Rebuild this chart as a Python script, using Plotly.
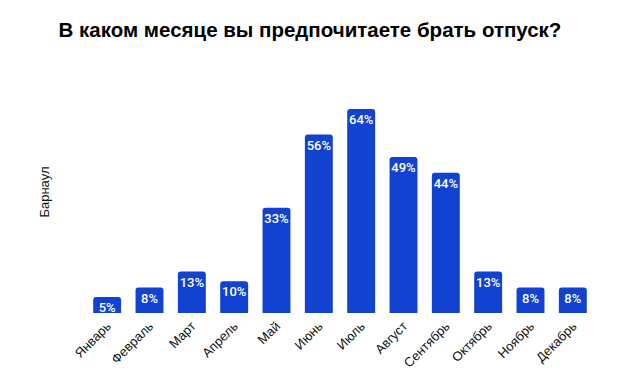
import plotly.graph_objects as go

months = ["Январь", "Февраль", "Март", "Апрель", "Май", "Июнь", "Июль",
          "Август", "Сентябрь", "Октябрь", "Ноябрь", "Декабрь"]
values = [5, 8, 13, 10, 33, 56, 64, 49, 44, 13, 8, 8]
labels = [f"{v}%" for v in values]

# the page body has an 8px default margin; margins below compensate for it
fig = go.Figure(go.Bar(
    x=months, y=values, text=labels,
    textposition="inside", insidetextanchor="end",
    textfont=dict(family="Roboto", size=13, color="white", weight=500),
    marker=dict(color="#1242D0", line=dict(width=0)),
    cliponaxis=False,
))
fig.update_traces(textangle=0)
fig.update_layout(
    width=620, height=383,
    margin=dict(l=78, r=34, t=82, b=78, autoexpand=False),
    paper_bgcolor="white", plot_bgcolor="white",
    bargap=0.34, barcornerradius=3,
    uniformtext=dict(minsize=12, mode="show"),
    showlegend=False,
    title=dict(text="<b>В каком месяце вы предпочитаете брать отпуск?</b>",
               x=302 / 620, xref="container", xanchor="center",
               y=1 - 22 / 383, yref="container", yanchor="middle",
               automargin=False,
               font=dict(family="Liberation Sans", size=20.5, color="black")),
    xaxis=dict(tickangle=-45, showgrid=False, showline=False, ticks="",
               automargin=False, ticklabelstandoff=2,
               tickfont=dict(family="Liberation Sans", size=13, color="#111111")),
    yaxis=dict(range=[0, 70], visible=False, automargin=False),
    annotations=[dict(text="Барнаул", textangle=-90, xref="paper", yref="paper",
                      x=(37 - 78) / 508, xanchor="center", y=0.54, yanchor="middle",
                      showarrow=False,
                      font=dict(family="Liberation Sans", size=13, color="#111111"))],
)
fig.write_html("out.html")
